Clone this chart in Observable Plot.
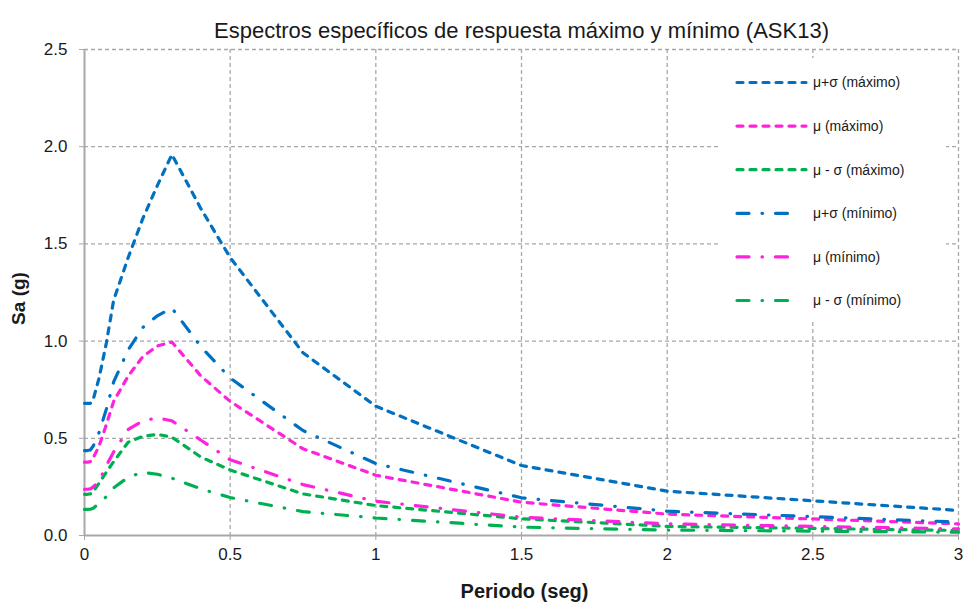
<!DOCTYPE html>
<html>
<head>
<meta charset="utf-8">
<script src="https://cdn.jsdelivr.net/npm/d3@7"></script>
<script src="https://cdn.jsdelivr.net/npm/@observablehq/plot@0.6"></script>
<style>
  html, body { margin: 0; padding: 0; background: #fff; }
  #chart { position: relative; width: 966px; height: 603px; }
</style>
</head>
<body>
<div id="chart"></div>
<script>
const titleText = "Espectros específicos de respuesta máximo y mínimo (ASK13)";
const xLabel = "Periodo (seg)";
const yLabel = "Sa (g)";

const periods = [0, 0.01, 0.02, 0.03, 0.05, 0.075, 0.1, 0.15, 0.2, 0.25, 0.3, 0.4, 0.5, 0.75, 1, 1.5, 2, 3];

const maxPlusSigma  = [0.68, 0.68, 0.68, 0.70, 0.81, 0.99, 1.21, 1.43, 1.63, 1.80, 1.96, 1.68, 1.43, 0.94, 0.665, 0.36, 0.228, 0.129];
const maxMu         = [0.377, 0.377, 0.38, 0.40, 0.46, 0.57, 0.69, 0.82, 0.92, 0.975, 0.995, 0.82, 0.69, 0.446, 0.31, 0.171, 0.11, 0.06];
const maxMinusSigma = [0.212, 0.212, 0.214, 0.225, 0.27, 0.326, 0.38, 0.48, 0.51, 0.52, 0.506, 0.403, 0.337, 0.214, 0.154, 0.086, 0.047, 0.026];
const minPlusSigma  = [0.437, 0.437, 0.44, 0.46, 0.53, 0.65, 0.79, 0.955, 1.07, 1.13, 1.17, 0.97, 0.81, 0.54, 0.37, 0.194, 0.125, 0.069];
const minMu         = [0.238, 0.238, 0.24, 0.25, 0.28, 0.36, 0.43, 0.545, 0.59, 0.605, 0.59, 0.49, 0.39, 0.262, 0.176, 0.094, 0.06, 0.034];
const minMinusSigma = [0.134, 0.134, 0.135, 0.14, 0.165, 0.2, 0.245, 0.3, 0.325, 0.315, 0.295, 0.24, 0.195, 0.123, 0.09, 0.043, 0.028, 0.017];

const seriesNames = ["μ+σ (máximo)", "μ (máximo)", "μ - σ (máximo)", "μ+σ (mínimo)", "μ (mínimo)", "μ - σ (mínimo)"];
const seriesValues = [maxPlusSigma, maxMu, maxMinusSigma, minPlusSigma, minMu, minMinusSigma];
const seriesColors = ["#0070C0", "#FF22DD", "#00B050", "#0070C0", "#FF22DD", "#00B050"];
const dashed = "6,7";
const dashDot = "12,13,0.5,13";
const seriesDash = [dashed, dashed, dashed, dashDot, dashDot, dashDot];

const xTicks = [0, 0.5, 1, 1.5, 2, 2.5, 3];
const yTicks = [0, 0.5, 1, 1.5, 2, 2.5];

const rows = [];
seriesNames.forEach((name, i) => {
  periods.forEach((t, j) => rows.push({series: name, T: t, Sa: seriesValues[i][j]}));
});

const gridStyle = {stroke: "#a8a8a8", strokeOpacity: 1, strokeWidth: 1.3, strokeDasharray: "4,3"};

const chart = Plot.plot({
  width: 966,
  height: 603,
  marginLeft: 84,
  marginRight: 8,
  marginTop: 49,
  marginBottom: 68,
  style: {fontFamily: "'Liberation Sans', Arial, sans-serif", fontSize: "17px", color: "#1a1a1a", background: "#fff"},
  x: {domain: [0, 3]},
  y: {domain: [0, 2.5]},
  marks: [
    Plot.gridX(xTicks.filter(d => d > 0), gridStyle),
    Plot.gridY(yTicks.filter(d => d > 0), gridStyle),
    Plot.ruleX([0], {stroke: "#a8a8a8", strokeWidth: 2}),
    Plot.ruleY([0], {stroke: "#a8a8a8", strokeWidth: 2}),
    Plot.axisX({ticks: xTicks, tickFormat: d => String(d), tickSize: 5, tickPadding: 7, stroke: "#a8a8a8", label: null, fontSize: 17}),
    Plot.axisY({ticks: yTicks, tickFormat: d3.format(".1f"), tickSize: 5, tickPadding: 12, stroke: "#a8a8a8", label: null, fontSize: 17}),
    ...seriesNames.map((name, i) => Plot.line(rows.filter(r => r.series === name), {
      x: "T", y: "Sa", stroke: seriesColors[i], strokeWidth: 3.2,
      strokeDasharray: seriesDash[i], strokeLinecap: "round", strokeLinejoin: "round",
      curve: "linear"
    })),
    Plot.text([titleText], {frameAnchor: "top", dy: -27, fontSize: 22, fill: "#1a1a1a"}),
    Plot.text([xLabel], {frameAnchor: "bottom", dy: 62, dx: 3, fontSize: 20, fontWeight: "bold", fill: "#1a1a1a"}),
    Plot.text([yLabel], {frameAnchor: "left", textAnchor: "middle", dx: -66, dy: 6, rotate: -90, fontSize: 19, fontWeight: "bold", fill: "#1a1a1a"})
  ]
});

document.getElementById("chart").appendChild(chart);

// Legend inside the SVG (top right, white box)
const svg = d3.select(chart);
const leg = svg.append("g").attr("class", "legend").attr("text-anchor", "start");
leg.append("rect").attr("x", 718).attr("y", 58).attr("width", 228).attr("height", 264).attr("fill", "#fff");
const legY0 = 82.5, legStep = 43.6;
seriesNames.forEach((name, i) => {
  const y = legY0 + i * legStep;
  const x1 = 737, x2 = seriesDash[i] === dashed ? 806 : 793;
  leg.append("line")
    .attr("x1", x1).attr("x2", x2).attr("y1", y).attr("y2", y)
    .attr("stroke", seriesColors[i]).attr("stroke-width", 3.2)
    .attr("stroke-dasharray", seriesDash[i]).attr("stroke-linecap", "round");
  leg.append("text")
    .attr("x", 813).attr("y", y).attr("dy", "0.35em")
    .attr("text-anchor", "start")
    .attr("font-size", 14).attr("fill", "#1a1a1a")
    .text(name);
});
</script>
</body>
</html>
